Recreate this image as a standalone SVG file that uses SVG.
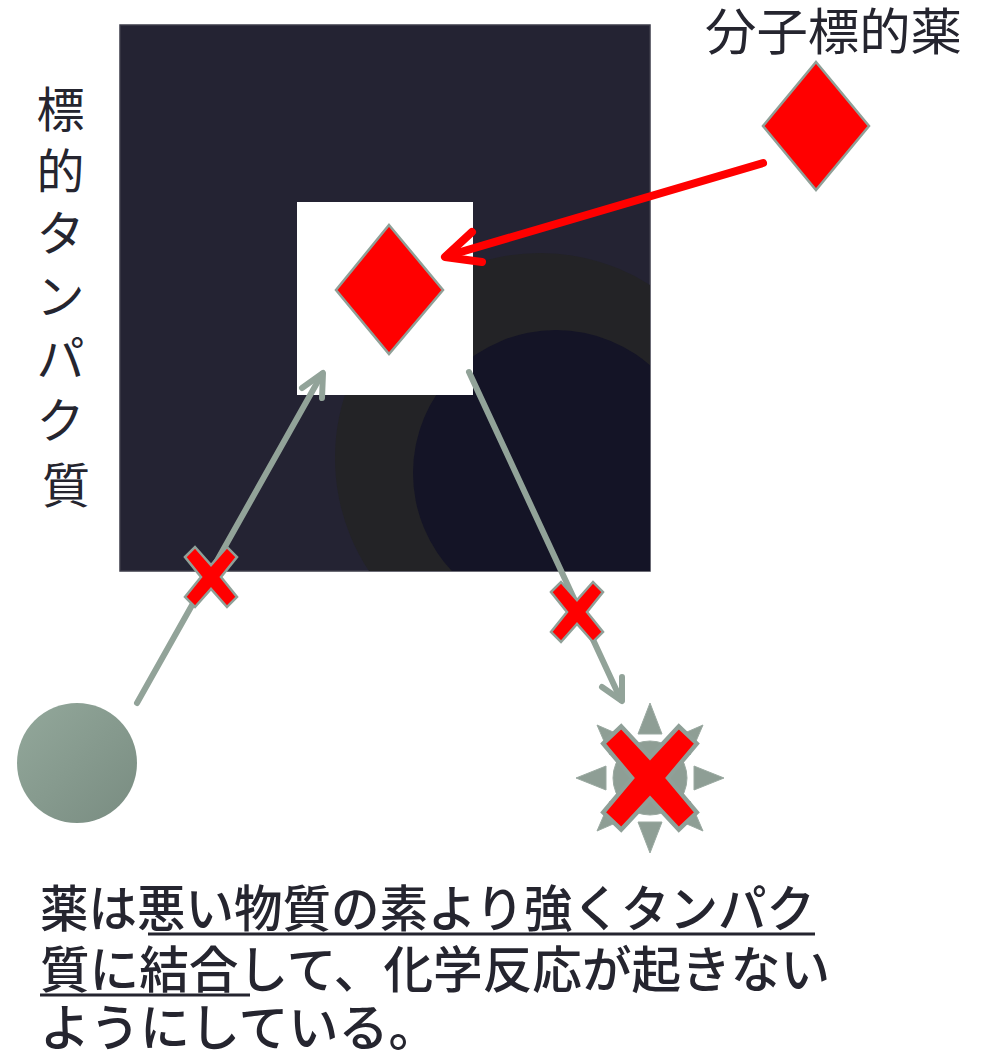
<svg xmlns="http://www.w3.org/2000/svg" width="986" height="1056" viewBox="0 0 986 1056">
<style>
.jp{font-family:"Noto Sans CJK JP","Noto Sans CJK SC",sans-serif;fill:#25252f;}
.cap{font-family:"Noto Sans CJK JP","Noto Sans CJK SC",sans-serif;fill:#25252f;font-weight:500;}
.diamond{fill:#ff0000;stroke:#8fa098;stroke-width:2.5;}
.xmark{fill:#ff0000;stroke:#8fa098;stroke-width:2.5;stroke-linejoin:miter;}
.garrow{fill:none;stroke:#92a399;stroke-width:6;stroke-linecap:round;stroke-linejoin:round;}
.rarrow{fill:none;stroke:#ff0000;stroke-width:8;stroke-linecap:round;stroke-linejoin:round;}
.ul{stroke:#25252f;stroke-width:3;}
</style>
<defs>
<clipPath id="sq"><rect x="120" y="25" width="530" height="546"/></clipPath>
<linearGradient id="ballg" x1="0" y1="0" x2="1" y2="1">
<stop offset="0" stop-color="#93a89b"/><stop offset="1" stop-color="#798c81"/>
</linearGradient>
<polygon id="xs" points="-26,-20 -16,-30 0,-12 16,-30 26,-20 10,0 26,20 16,30 0,12 -16,30 -26,20 -10,0"/>
</defs>
<rect width="986" height="1056" fill="#ffffff"/>

<g id="protein">
<rect x="120" y="25" width="530" height="546" fill="#242333" stroke="#3b3b48" stroke-width="1.5"/>
<g clip-path="url(#sq)">
<circle cx="540" cy="458" r="205" fill="#232326"/>
<circle cx="556" cy="473" r="143" fill="#141426"/>
</g>
<rect x="297" y="202" width="176" height="193" fill="#ffffff"/>
</g>

<g id="label-protein">
<text class="jp" font-size="48" text-anchor="middle">
<tspan x="66" y="127">標</tspan>
<tspan x="66" y="189">的</tspan>
<tspan x="66" y="251">タ</tspan>
<tspan x="66" y="314">ン</tspan>
<tspan x="66" y="376">パ</tspan>
<tspan x="66" y="438">ク</tspan>
<tspan x="66" y="503">質</tspan>
</text>
</g>

<g id="label-drug">
<text class="jp" x="705" y="50" font-size="50" textLength="257" lengthAdjust="spacingAndGlyphs">分子標的薬</text>
</g>

<g id="drug-free">
<polygon class="diamond" points="816,62 869,126 816,190 763,126"/>
</g>

<g id="drug-bound">
<polygon class="diamond" points="389,225 443,290 389,354 336,290"/>
</g>

<g id="bad-substance">
<circle cx="77" cy="763" r="60" fill="url(#ballg)"/>
</g>

<g id="connectors">
<line class="rarrow" x1="763" y1="163" x2="447" y2="256"/>
<polyline class="rarrow" points="472,232 445,257 482,262"/>
<line class="garrow" x1="137" y1="703" x2="322" y2="374"/>
<polyline class="garrow" points="302,388 323,373 322,398"/>
<line class="garrow" x1="469" y1="372" x2="621" y2="700"/>
<polyline class="garrow" points="602,687 622,701 622,677"/>
</g>

<g id="block1">
<use href="#xs" class="xmark" transform="translate(211,577)"/>
</g>
<g id="block2">
<use href="#xs" class="xmark" transform="translate(577,612)"/>
</g>

<g id="burst" transform="translate(650,778)">
<g fill="#8e9e95" stroke="#9aa9a1" stroke-width="1">
<circle r="37"/>
<polygon points="0,-75 -12,-44 12,-44"/>
<polygon points="0,75 -12,44 12,44"/>
<polygon points="-74,0 -44,-12 -44,12"/>
<polygon points="74,0 44,-12 44,12"/>
<polygon points="-53,-53 -40,-23 -23,-40"/>
<polygon points="53,-53 40,-23 23,-40"/>
<polygon points="-53,53 -40,23 -23,40"/>
<polygon points="53,53 40,23 23,40"/>
</g>
<use href="#xs" class="xmark" transform="scale(1.8,1.72)" stroke-width="1.5"/>
</g>

<g id="caption">
<text class="cap" font-size="50">
<tspan x="40" y="927" textLength="775" lengthAdjust="spacingAndGlyphs">薬は悪い物質の素より強くタンパク</tspan>
<tspan x="40" y="988" textLength="790" lengthAdjust="spacingAndGlyphs">質に結合して、化学反応が起きない</tspan>
<tspan x="40" y="1046">ようにしている。</tspan>
</text>
<line class="ul" x1="148" y1="934" x2="815" y2="934"/>
<line class="ul" x1="40" y1="995" x2="250" y2="995"/>
</g>
</svg>
